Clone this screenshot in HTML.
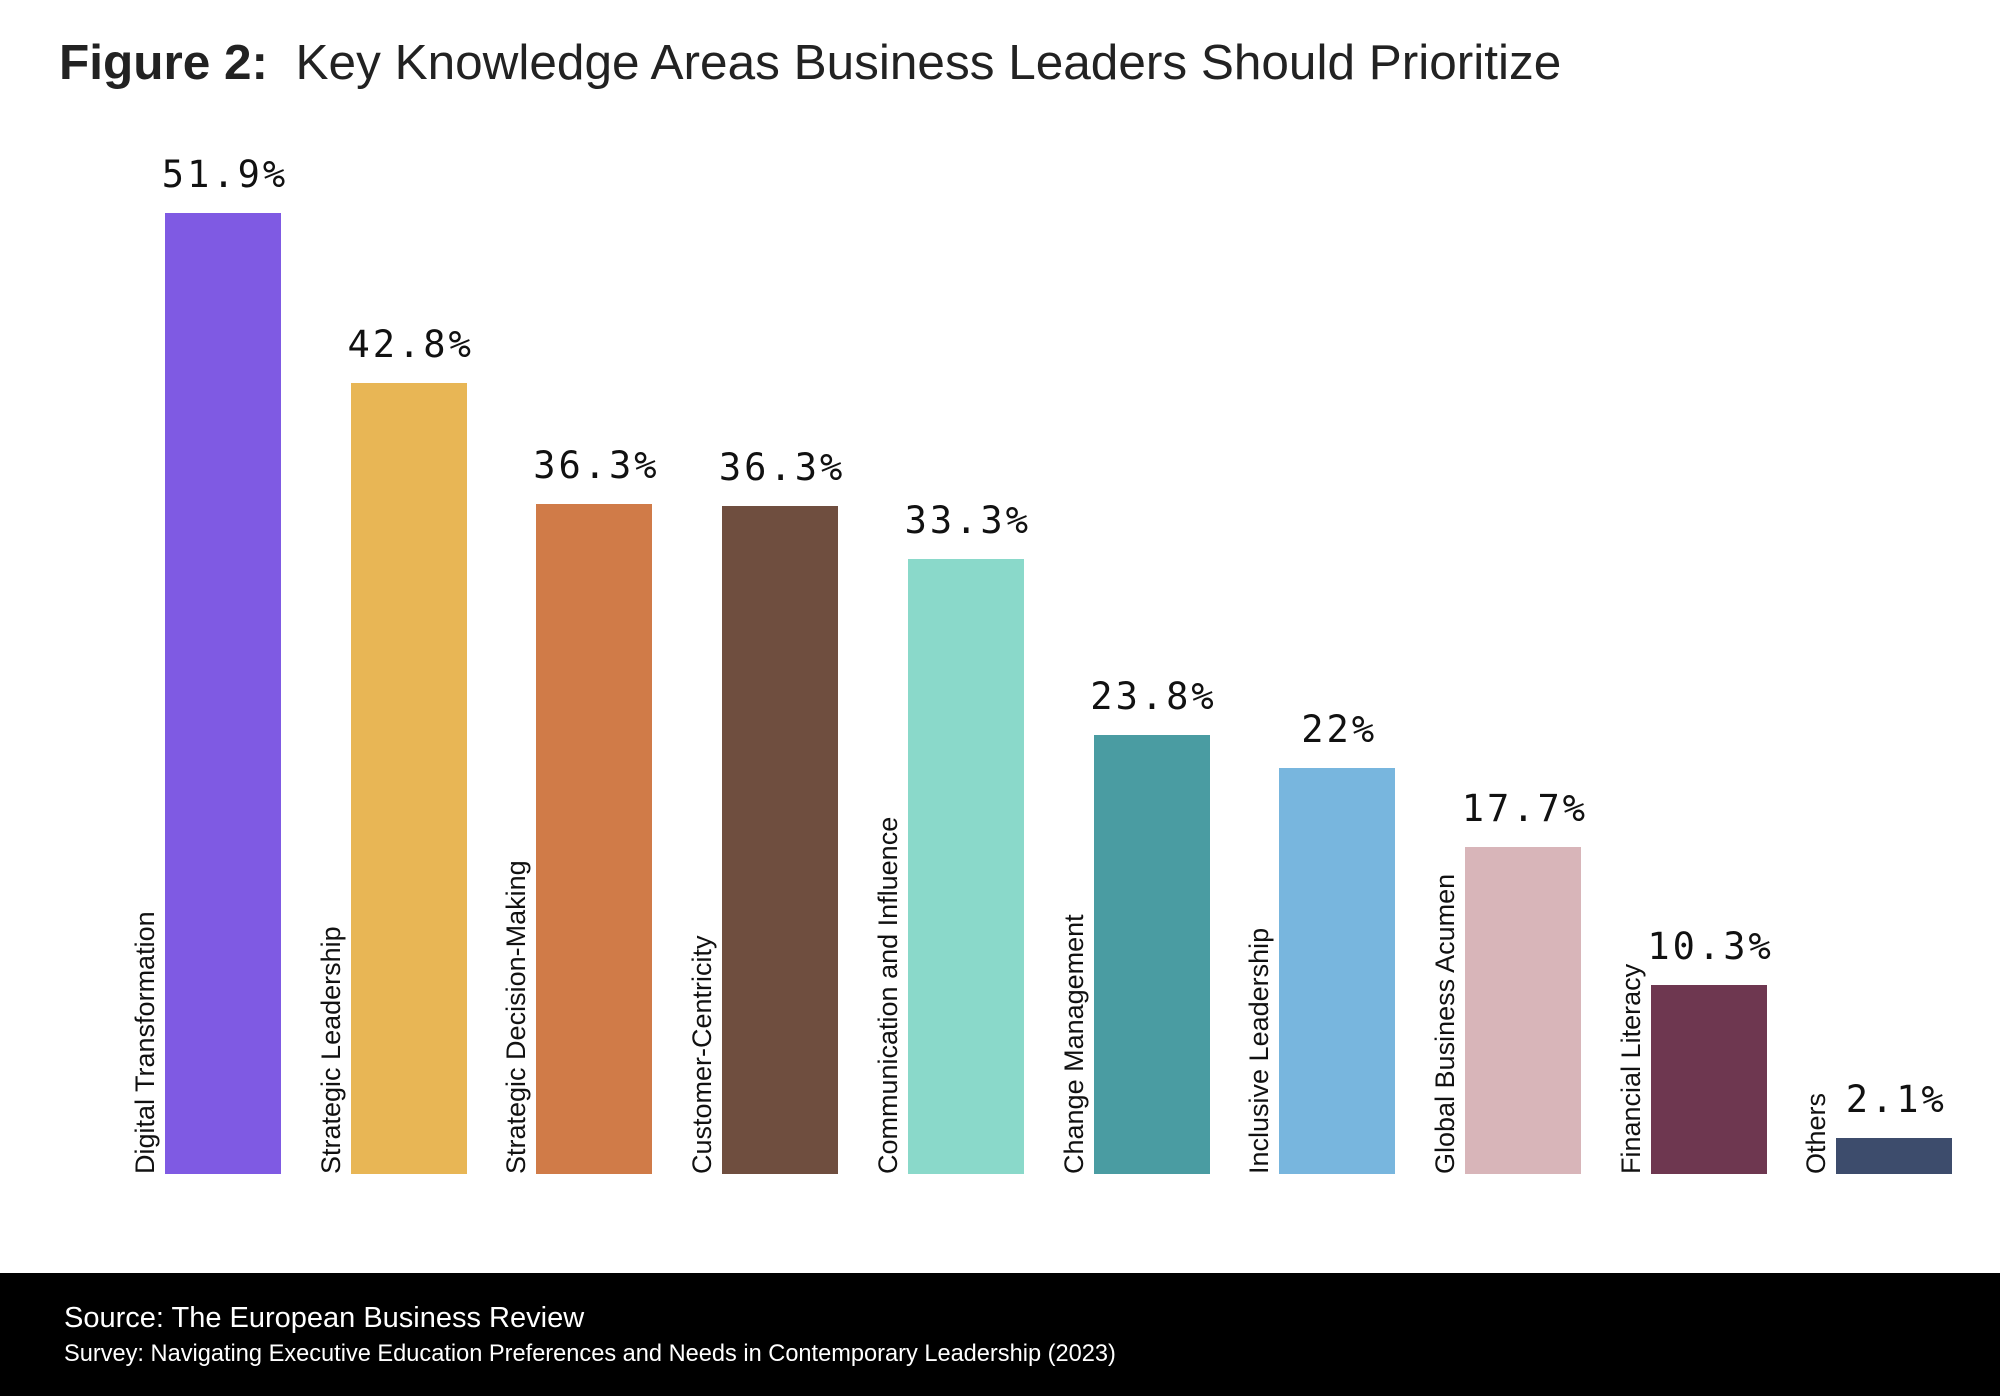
<!DOCTYPE html>
<html><head><meta charset="utf-8"><style>
body{margin:0;width:2000px;height:1396px;background:#fff;position:relative;overflow:hidden;font-family:"Liberation Sans",sans-serif}
.t{position:absolute;left:59px;top:34px;font-size:49.5px;color:#222;white-space:nowrap}
.bar{position:absolute;width:116px}
.v{position:absolute;width:220px;text-align:center;font-family:"DejaVu Sans Mono",monospace;font-size:37px;letter-spacing:3px;color:#111}
.c{position:absolute;font-size:27px;color:#111;white-space:nowrap;transform-origin:0 0;transform:rotate(-90deg)}
.f{position:absolute;left:0;top:1273px;width:2000px;height:123px;background:#000;color:#fff}
</style></head><body>
<div class="t"><b>Figure 2:</b>&nbsp; Key Knowledge Areas Business Leaders Should Prioritize</div>
<div id="chart"></div>
<div class="f">
<div style="position:absolute;left:64px;top:29px;font-size:29px">Source: The European Business Review</div>
<div style="position:absolute;left:64px;top:68px;font-size:23.6px">Survey: Navigating Executive Education Preferences and Needs in Contemporary Leadership (2023)</div>
</div>
<script>
var d=[["Digital Transformation","51.9%",213,"#7f5ae3"],["Strategic Leadership","42.8%",383,"#e8b655"],["Strategic Decision-Making","36.3%",504,"#d07b48"],["Customer-Centricity","36.3%",506,"#6f4e3f"],["Communication and Influence","33.3%",559,"#8ad9ca"],["Change Management","23.8%",735,"#4a9ca2"],["Inclusive Leadership","22%",768,"#78b6de"],["Global Business Acumen","17.7%",847,"#d8b5b9"],["Financial Literacy","10.3%",985,"#6e3750"],["Others","2.1%",1138,"#3d4c6c"]];
var h="";d.forEach(function(e,i){var x=165+i*185.7;
h+='<div class="bar" style="left:'+x+'px;top:'+e[2]+'px;height:'+(1174-e[2])+'px;background:'+e[3]+'"></div>';
h+='<div class="v" style="left:'+(x-50)+'px;top:'+(e[2]-60)+'px">'+e[1]+'</div>';
h+='<div class="c" style="left:'+(x-35)+'px;top:1174px">'+e[0]+'</div>';});
document.getElementById("chart").innerHTML=h;
</script>
</body></html>
